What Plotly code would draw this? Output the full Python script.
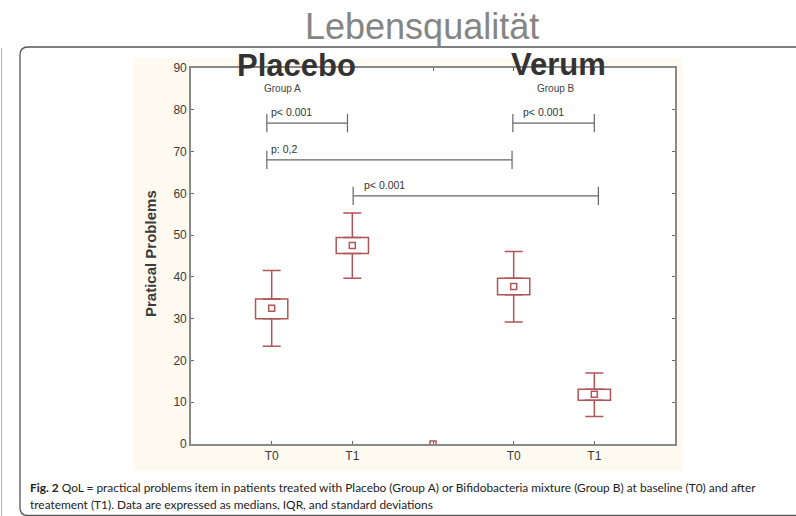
import plotly.graph_objects as go

# ---------------- data ----------------
categories = ["T0", "T1", "", "T0", "T1"]
positions = [1, 2, 3, 4, 5]
whisker_low = [23.4, 39.7, None, 29.2, 6.6]
q1 = [30.0, 45.6, None, 35.7, 10.5]
median = [32.5, 47.5, 0.0, 37.7, 11.9]
q3 = [34.7, 49.4, None, 39.7, 13.1]
whisker_high = [41.5, 55.3, None, 46.1, 17.0]

# significance brackets
br_x0 = [0.94, 3.99, 0.94, 2.01]
br_x1 = [1.94, 5.00, 3.98, 5.05]
br_y = [76.8, 76.8, 68.0, 59.4]
br_label = ["p< 0.001", "p< 0.001", "p: 0,2", "p< 0.001"]
br_label_x = [0.965, 4.09, 0.965, 2.12]

group_labels = ["Group A", "Group B"]
group_x = [1.14, 4.52]
group_y = 85.2

# ---------------- layout constants ----------------
W, H = 796, 516
PL, PR, PT, PB = 191, 675, 68, 444
RED = "#b05656"
AXC = "#8a8a8a"
FONT = "Liberation Sans, Arial, sans-serif"


def xp(px):
    return (px - PL) / (PR - PL)


def yp(py):
    return (PB - py) / (PB - PT)


def diff(a, b):
    return [None if (x is None or y is None) else round(x - y, 3) for x, y in zip(a, b)]


fig = go.Figure()

# IQR boxes
fig.add_trace(go.Bar(
    x=positions, base=q1, y=diff(q3, q1), width=0.4,
    marker=dict(color="white", line=dict(color=RED, width=1.5)),
    hoverinfo="skip", showlegend=False))

# upper whiskers
fig.add_trace(go.Scatter(
    x=positions, y=q3, mode="markers",
    marker=dict(size=1, color="rgba(0,0,0,0)"),
    error_y=dict(type="data", symmetric=False, array=diff(whisker_high, q3),
                 arrayminus=[0 if v is not None else None for v in q3],
                 color=RED, thickness=1.5, width=9),
    hoverinfo="skip", showlegend=False))

# lower whiskers
fig.add_trace(go.Scatter(
    x=positions, y=q1, mode="markers",
    marker=dict(size=1, color="rgba(0,0,0,0)"),
    error_y=dict(type="data", symmetric=False, array=[0 if v is not None else None for v in q1],
                 arrayminus=diff(q1, whisker_low),
                 color=RED, thickness=1.5, width=9),
    hoverinfo="skip", showlegend=False))

# medians
fig.add_trace(go.Scatter(
    x=positions, y=median, mode="markers",
    marker=dict(symbol="square-open", size=6, color=RED, line=dict(width=1.5, color=RED)),
    hoverinfo="skip", showlegend=False))

shapes = []
# cream panel
shapes.append(dict(type="rect", xref="paper", yref="paper", layer="below",
                   x0=xp(134), x1=xp(683), y0=yp(471), y1=yp(58),
                   fillcolor="#fefaf0", line=dict(width=0)))
# white plot area
shapes.append(dict(type="rect", xref="paper", yref="paper", layer="below",
                   x0=0, x1=1, y0=0, y1=1, fillcolor="white", line=dict(width=0)))

# rounded border
bx0, bx1, by0, by1, r = 20, 810, 47, 515.5, 8
path = (f"M {xp(bx0)},{yp(by0 + r)} "
        f"Q {xp(bx0)},{yp(by0)} {xp(bx0 + r)},{yp(by0)} "
        f"L {xp(bx1 - r)},{yp(by0)} "
        f"Q {xp(bx1)},{yp(by0)} {xp(bx1)},{yp(by0 + r)} "
        f"L {xp(bx1)},{yp(by1 - r)} "
        f"Q {xp(bx1)},{yp(by1)} {xp(bx1 - r)},{yp(by1)} "
        f"L {xp(bx0 + r)},{yp(by1)} "
        f"Q {xp(bx0)},{yp(by1)} {xp(bx0)},{yp(by1 - r)} Z")
shapes.append(dict(type="path", xref="paper", yref="paper", layer="below", path=path,
                   line=dict(color="#555555", width=1.3)))
# left thin line
shapes.append(dict(type="line", xref="paper", yref="paper", layer="below",
                   x0=xp(1.5), x1=xp(1.5), y0=yp(48), y1=yp(516),
                   line=dict(color="#b0b0b0", width=1)))

# brackets
TICK_H = 2.2
for a, b, y in zip(br_x0, br_x1, br_y):
    shapes.append(dict(type="line", xref="x", yref="y", x0=a, x1=b, y0=y, y1=y,
                       line=dict(color="#666666", width=1.2)))
    for xx in (a, b):
        shapes.append(dict(type="line", xref="x", yref="y", x0=xx, x1=xx,
                           y0=y - TICK_H, y1=y + TICK_H,
                           line=dict(color="#666666", width=1.2)))

annotations = []
for lab, lx, y in zip(br_label, br_label_x, br_y):
    annotations.append(dict(x=lx, y=y + 2.7, xref="x", yref="y", text=lab, showarrow=False,
                            xanchor="left", yanchor="middle",
                            font=dict(family=FONT, size=10.5, color="#333333")))
for lab, gx in zip(group_labels, group_x):
    annotations.append(dict(x=gx, y=group_y, xref="x", yref="y", text=lab, showarrow=False,
                            xanchor="center", yanchor="middle",
                            font=dict(family=FONT, size=10, color="#444444")))

annotations.append(dict(x=xp(421.5), y=yp(26.5), xref="paper", yref="paper",
                        text="Lebensqualität", showarrow=False, xanchor="center", yanchor="middle",
                        font=dict(family=FONT, size=36, color="#858585")))
annotations.append(dict(x=xp(296), y=yp(65.5), xref="paper", yref="paper",
                        text="<b>Placebo</b>", showarrow=False, xanchor="center", yanchor="middle",
                        font=dict(family=FONT, size=31, color="#333333")))
annotations.append(dict(x=xp(558.3), y=yp(65), xref="paper", yref="paper",
                        text="<b>Verum</b>", showarrow=False, xanchor="center", yanchor="middle",
                        font=dict(family=FONT, size=31, color="#333333")))
annotations.append(dict(x=xp(150), y=yp(254), xref="paper", yref="paper",
                        text="<b>Pratical Problems</b>", showarrow=False, textangle=-90,
                        xanchor="center", yanchor="middle",
                        font=dict(family=FONT, size=15, color="#3a3a3a")))

CAP_FONT = "Lato, Noto Sans, sans-serif"
annotations.append(dict(x=xp(28), y=yp(487), xref="paper", yref="paper",
                        text="<b>Fig. 2</b> QoL = practical problems item in patients treated with Placebo (Group A) "
                             "or Bifidobacteria mixture (Group B) at baseline (T0) and after",
                        showarrow=False, xanchor="left", yanchor="middle",
                        font=dict(family=CAP_FONT, size=11.9, color="#222222")))
annotations.append(dict(x=xp(28), y=yp(504), xref="paper", yref="paper",
                        text="treatement (T1). Data are expressed as medians, IQR, and standard deviations",
                        showarrow=False, xanchor="left", yanchor="middle",
                        font=dict(family=CAP_FONT, size=11.9, color="#222222")))

axis_common = dict(showline=True, linecolor=AXC, linewidth=1.6, mirror="ticks",
                   ticks="inside", ticklen=3, tickwidth=1, tickcolor="#666666",
                   showgrid=False, zeroline=False,
                   tickfont=dict(family=FONT, size=12, color="#3a3a3a"))

fig.update_layout(
    width=W, height=H,
    margin=dict(l=PL, r=W - PR, t=PT, b=H - PB, pad=0),
    paper_bgcolor="white", plot_bgcolor="white",
    xaxis=dict(range=[0, 6], tickvals=positions, ticktext=categories, **axis_common),
    yaxis=dict(range=[0, 90], tickvals=list(range(0, 91, 10)), **axis_common),
    shapes=shapes, annotations=annotations, showlegend=False,
)

fig.write_html("out.html")
